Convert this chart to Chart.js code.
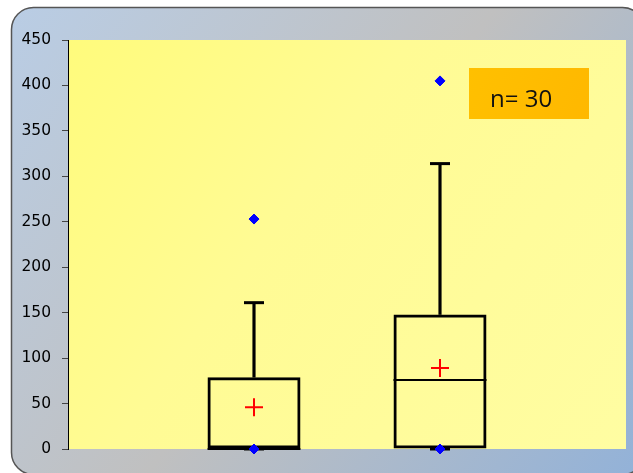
<!DOCTYPE html>
<html>
<head>
<meta charset="utf-8">
<script src="https://cdn.jsdelivr.net/npm/chart.js@4/dist/chart.umd.min.js"></script>
<style>
  html, body { margin: 0; padding: 0; background: #fff; }
  #wrap { width: 633px; height: 473px; }
</style>
</head>
<body>
<div id="wrap"><canvas id="BoxStats"></canvas></div>
<script>
//
// Data
var groups      = ['', 'Groupe 1', 'Groupe 2', ''];
var q1          = [null, 0, 0, null];
var medians     = [null, 0, 76, null];
var q3          = [null, 79, 148, null];
var whiskerTops = [null, 161, 314, null];
var means       = [null, 46, 89, null];
var minimums    = [null, 0, 0, null];
var outliers    = [null, 253, 405, null];
var yTicks      = [0, 50, 100, 150, 200, 250, 300, 350, 400, 450];
var sampleLabel = 'n= 30';

//
// Background: rounded panel + yellow plot area, and the "n=" box
var backdrop = {
    id: 'backdrop',
    beforeDraw: function(chart) {
        var ctx = chart.ctx, a = chart.chartArea;
        ctx.save();
        var g = ctx.createLinearGradient(11, 7, 633, 473);
        g.addColorStop(0, '#b9cde5');
        g.addColorStop(0.5, '#c0c0c0');
        g.addColorStop(1, '#93b2d8');
        ctx.beginPath();
        ctx.roundRect(11.5, 7.5, 633, 467, 22);
        ctx.fillStyle = g;
        ctx.fill();
        ctx.lineWidth = 1.5;
        ctx.strokeStyle = '#555';
        ctx.stroke();

        var y = ctx.createLinearGradient(a.left, a.top, a.right, a.bottom);
        y.addColorStop(0, '#fffb7c');
        y.addColorStop(0.4, '#fffb94');
        y.addColorStop(1, '#fffda2');
        ctx.fillStyle = y;
        ctx.fillRect(a.left, a.top, a.right - a.left, a.bottom - a.top);
        ctx.restore();
    },
    afterDraw: function(chart) {
        var ctx = chart.ctx, a = chart.chartArea;
        var x = a.right - 157, y = a.top + 28, w = 120, h = 51;
        ctx.save();
        var g = ctx.createLinearGradient(x, y, x + w, y + h);
        g.addColorStop(0, '#ffc000');
        g.addColorStop(1, '#ffb800');
        ctx.fillStyle = g;
        ctx.fillRect(x, y, w, h);
        ctx.fillStyle = '#111';
        ctx.font = '24px "Open Sans"';
        ctx.textBaseline = 'alphabetic';
        ctx.fillText(sampleLabel, x + 21, y + 39);
        ctx.restore();
    }
};

function pick(arr) { return groups.map(function(g, i) { return arr[i]; }); }

var ctx = document.getElementById('BoxStats').getContext('2d');
new Chart(ctx, {
    type: 'bar',
    data: {
        labels: groups,
        datasets: [
            {
                // box q1..q3
                data: groups.map(function(g, i) { return q1[i] == null ? null : [q1[i], q3[i]]; }),
                backgroundColor: 'rgba(0,0,0,0)',
                borderColor: '#000',
                borderWidth: 3,
                borderSkipped: false,
                grouped: false,
                barPercentage: 0.5,
                categoryPercentage: 1,
                order: 5
            },
            {
                // upper whisker
                data: groups.map(function(g, i) { return q3[i] == null ? null : [q3[i], whiskerTops[i]]; }),
                backgroundColor: '#000',
                borderWidth: 0,
                grouped: false,
                barThickness: 2.5,
                order: 6
            },
            {
                type: 'line', data: pick(medians), showLine: false,
                pointStyle: 'line', pointRadius: 46.5, pointBorderColor: '#000',
                pointBorderWidth: 2, clip: false, order: 4
            },
            {
                type: 'line', data: pick(whiskerTops), showLine: false,
                pointStyle: 'line', pointRadius: 10, pointBorderColor: '#000',
                pointBorderWidth: 3, clip: false, order: 4
            },
            {
                type: 'line', data: pick(minimums), showLine: false,
                pointStyle: 'line', pointRadius: 10, pointBorderColor: '#000',
                pointBorderWidth: 3, clip: false, order: 4
            },
            {
                type: 'line', data: pick(means), showLine: false,
                pointStyle: 'cross', pointRadius: 9, pointBorderColor: '#ff0000',
                pointBorderWidth: 2, clip: false, order: 2
            },
            {
                type: 'line', data: pick(minimums), showLine: false,
                pointStyle: 'rectRot', pointRadius: 5, pointBackgroundColor: '#0000ff',
                pointBorderColor: '#0000ff', pointBorderWidth: 1, clip: false, order: 1
            },
            {
                type: 'line', data: pick(outliers), showLine: false,
                pointStyle: 'rectRot', pointRadius: 5, pointBackgroundColor: '#0000ff',
                pointBorderColor: '#0000ff', pointBorderWidth: 1, clip: false, order: 1
            }
        ]
    },
    options: {
        responsive: true,
        maintainAspectRatio: false,
        animation: false,
        layout: { autoPadding: false, padding: { top: 40, right: 7, bottom: 24, left: 0 } },
        plugins: {
            legend: { display: false },
            tooltip: { enabled: false }
        },
        scales: {
            x: { display: false, offset: false },
            y: {
                min: 0,
                max: 450,
                afterFit: function(s) { s.width = 68; },
                afterBuildTicks: function(s) { s.ticks = yTicks.map(function(v) { return { value: v }; }); },
                border: { display: true, color: '#000', width: 1 },
                grid: { drawOnChartArea: false, drawTicks: true, tickLength: 6, color: '#444' },
                ticks: {
                    padding: 11,
                    color: '#000',
                    font: { family: '"DejaVu Sans"', size: 15.5 }
                }
            }
        }
    },
    plugins: [backdrop]
});
</script>
</body>
</html>
